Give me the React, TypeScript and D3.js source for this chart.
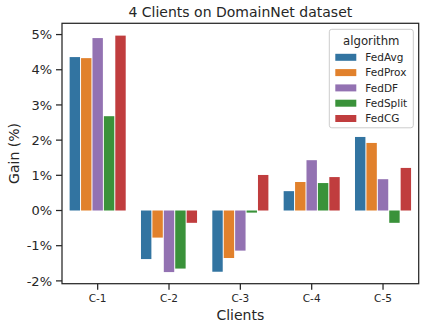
import * as d3 from 'd3';
import React, { useEffect, useRef } from 'react';

// Chart data
const clients = ['C-1', 'C-2', 'C-3', 'C-4', 'C-5'];
const algorithms = ['FedAvg', 'FedProx', 'FedDF', 'FedSplit', 'FedCG'];
const fedAvg = [4.36, -1.38, -1.74, 0.55, 2.09];
const fedProx = [4.33, -0.77, -1.35, 0.81, 1.92];
const fedDF = [4.9, -1.75, -1.14, 1.43, 0.89];
const fedSplit = [2.68, -1.65, -0.06, 0.78, -0.35];
const fedCG = [4.97, -0.35, 1.01, 0.95, 1.21];
const yTicks = [-2, -1, 0, 1, 2, 3, 4, 5];
const colors = ['#3274a1', '#e1812c', '#9372b2', '#3a923a', '#c03d3e'];

const WIDTH = 426;
const HEIGHT = 329;
const margin = { top: 23.3, right: 7.3, bottom: 45.3, left: 62 };
const ink = '#262626';
const font = 'DejaVu Sans, sans-serif';

export default function App() {
    const ref = useRef<SVGSVGElement>(null);

    useEffect(() => {
        const svg = d3.select(ref.current);
        svg.selectAll('*').remove();

        const series = [fedAvg, fedProx, fedDF, fedSplit, fedCG];
        const x0 = margin.left;
        const x1 = WIDTH - margin.right;
        const y0 = margin.top;
        const y1 = HEIGHT - margin.bottom;

        const x = d3.scaleBand().domain(clients).range([x0, x1]).padding(0);
        const y = d3.scaleLinear().domain([-2.08, 5.32]).range([y1, y0]);
        // seaborn: dodge within 0.8 of each category
        const inner = d3.scaleBand()
            .domain(algorithms)
            .range([x.bandwidth() * 0.1, x.bandwidth() * 0.9]);

        svg.append('rect').attr('width', WIDTH).attr('height', HEIGHT).attr('fill', '#fff');

        // bars
        algorithms.forEach((alg, i) => {
            svg.append('g')
                .selectAll('rect')
                .data(series[i])
                .enter()
                .append('rect')
                .attr('x', (d, j) => (x(clients[j]) as number) + (inner(alg) as number) + 0.5)
                .attr('width', inner.bandwidth() - 1)
                .attr('y', d => y(Math.max(0, d)))
                .attr('height', d => Math.abs(y(d) - y(0)))
                .attr('fill', colors[i]);
        });

        // spines
        svg.append('rect')
            .attr('x', x0).attr('y', y0)
            .attr('width', x1 - x0).attr('height', y1 - y0)
            .attr('fill', 'none')
            .attr('stroke', ink)
            .attr('stroke-width', 1.25);

        // y ticks
        const yg = svg.append('g');
        yTicks.forEach(t => {
            yg.append('line')
                .attr('x1', x0 - 6).attr('x2', x0)
                .attr('y1', y(t)).attr('y2', y(t))
                .attr('stroke', ink).attr('stroke-width', 1.25);
            yg.append('text')
                .attr('x', x0 - 10).attr('y', y(t))
                .attr('dy', '0.36em')
                .attr('text-anchor', 'end')
                .style('font-family', font)
                .style('font-size', '13px')
                .attr('fill', ink)
                .text(t + '%');
        });

        // x ticks
        const xg = svg.append('g');
        clients.forEach(c => {
            const cx = (x(c) as number) + x.bandwidth() / 2;
            xg.append('line')
                .attr('x1', cx).attr('x2', cx)
                .attr('y1', y1).attr('y2', y1 + 6)
                .attr('stroke', ink).attr('stroke-width', 1.25);
            xg.append('text')
                .attr('x', cx).attr('y', y1 + 18.5)
                .attr('text-anchor', 'middle')
                .style('font-family', font)
                .style('font-size', '10.5px')
                .attr('fill', ink)
                .text(c);
        });

        // labels and title
        svg.append('text')
            .attr('x', (x0 + x1) / 2).attr('y', 320.3)
            .attr('text-anchor', 'middle')
            .style('font-family', font).style('font-size', '14px')
            .attr('fill', ink)
            .text('Clients');
        svg.append('text')
            .attr('transform', 'translate(18.5,' + (y0 + y1) / 2 + ') rotate(-90)')
            .attr('text-anchor', 'middle')
            .style('font-family', font).style('font-size', '14px')
            .attr('fill', ink)
            .text('Gain (%)');
        svg.append('text')
            .attr('x', (x0 + x1) / 2).attr('y', 17.3)
            .attr('text-anchor', 'middle')
            .style('font-family', font).style('font-size', '14px')
            .attr('fill', ink)
            .text('4 Clients on DomainNet dataset');

        // legend
        const lg = svg.append('g');
        lg.append('rect')
            .attr('x', 329.3).attr('y', 29.3)
            .attr('width', 84).attr('height', 98.5)
            .attr('rx', 2.5)
            .attr('fill', '#fff').attr('fill-opacity', 0.8)
            .attr('stroke', '#cccccc').attr('stroke-width', 1);
        lg.append('text')
            .attr('x', 371.3).attr('y', 44.5)
            .attr('text-anchor', 'middle')
            .style('font-family', font).style('font-size', '11.7px')
            .attr('fill', ink)
            .text('algorithm');
        algorithms.forEach((alg, i) => {
            const cy = 57.3 + i * 15.3;
            lg.append('rect')
                .attr('x', 335.3).attr('y', cy - 3.5)
                .attr('width', 21).attr('height', 7)
                .attr('fill', colors[i]);
            lg.append('text')
                .attr('x', 365.3).attr('y', cy)
                .attr('dy', '0.36em')
                .style('font-family', font).style('font-size', '10.5px')
                .attr('fill', ink)
                .text(alg);
        });
    }, []);

    return (
        <svg
            ref={ref}
            width={WIDTH}
            height={HEIGHT}
            style={{ position: 'absolute', left: 0, top: 0 }}
        />
    );
}
